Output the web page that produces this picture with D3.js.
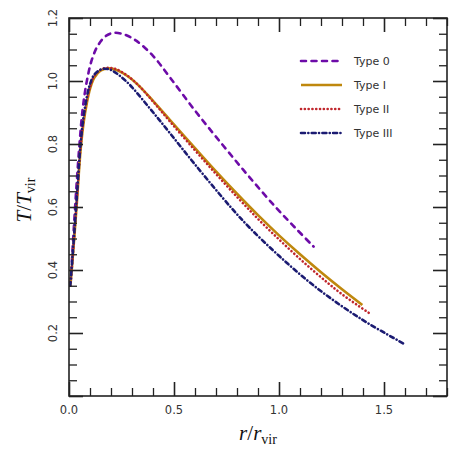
<!DOCTYPE html>
<html>
<head>
<meta charset="utf-8">
<script src="https://cdn.jsdelivr.net/npm/d3@7"></script>
<style>
  body { margin: 0; background: #fff; }
  svg text { font-family: "DejaVu Sans", sans-serif; }
</style>
</head>
<body>
<div id="chart"></div>
<script>
// Temperature profiles T/Tvir vs r/rvir
const r0 = [0.008, 0.02, 0.035, 0.05, 0.065, 0.085, 0.11, 0.14, 0.18, 0.22, 0.27, 0.32, 0.40, 0.48, 0.6, 0.733, 0.859, 0.986, 1.08, 1.165];
const t0 = [0.36, 0.50, 0.66, 0.80, 0.91, 1.00, 1.07, 1.115, 1.145, 1.153, 1.146, 1.128, 1.08, 1.012, 0.906, 0.796, 0.695, 0.598, 0.532, 0.474];

const r1 = [0.006, 0.013, 0.036, 0.055, 0.07, 0.085, 0.10, 0.12, 0.15, 0.19, 0.23, 0.28, 0.33, 0.4, 0.48, 0.6, 0.7, 0.8, 0.9, 1.0, 1.1, 1.2, 1.3, 1.397];
const t1 = [0.35, 0.40, 0.60, 0.78, 0.87, 0.93, 0.975, 1.01, 1.033, 1.04, 1.034, 1.015, 0.987, 0.937, 0.877, 0.787, 0.713, 0.642, 0.574, 0.51, 0.45, 0.393, 0.339, 0.289];

const r2 = [0.006, 0.013, 0.036, 0.055, 0.07, 0.085, 0.10, 0.12, 0.15, 0.19, 0.23, 0.28, 0.33, 0.4, 0.48, 0.6, 0.7, 0.8, 0.9, 1.0, 1.1, 1.2, 1.3, 1.432];
const t2 = [0.35, 0.40, 0.61, 0.79, 0.88, 0.94, 0.98, 1.015, 1.036, 1.042, 1.036, 1.016, 0.987, 0.935, 0.872, 0.78, 0.705, 0.632, 0.562, 0.497, 0.435, 0.377, 0.323, 0.262];

const r3 = [0.006, 0.013, 0.036, 0.055, 0.07, 0.085, 0.10, 0.12, 0.15, 0.17, 0.2, 0.274, 0.385, 0.48, 0.6, 0.772, 0.859, 1.0, 1.176, 1.39, 1.6];
const t3 = [0.35, 0.41, 0.62, 0.80, 0.89, 0.95, 0.99, 1.02, 1.036, 1.039, 1.035, 0.998, 0.913, 0.835, 0.735, 0.598, 0.535, 0.445, 0.345, 0.245, 0.164];

const seriesNames = ["Type 0", "Type I", "Type II", "Type III"];
const xTicks = [0, 0.5, 1.0, 1.5];
const yTicks = [0.2, 0.4, 0.6, 0.8, 1.0, 1.2];

const series = [
  { name: seriesNames[0], r: r0, t: t0, color: "#6d0ba8", dash: "5 5.5" },
  { name: seriesNames[1], r: r1, t: t1, color: "#bf880d", dash: null },
  { name: seriesNames[2], r: r2, t: t2, color: "#c0272d", dash: "0.1 3.7" },
  { name: seriesNames[3], r: r3, t: t3, color: "#1b1b72", dash: "4 3.3 0.1 3.3" }
];

const W = 461, H = 450;
const margin = { top: 18, right: 14, bottom: 54, left: 69 };
const width = W - margin.left - margin.right;
const height = H - margin.top - margin.bottom;

const svg = d3.select("#chart").append("svg")
  .attr("width", W)
  .attr("height", H);

const g = svg.append("g")
  .attr("transform", `translate(${margin.left},${margin.top})`);

const x = d3.scaleLinear().domain([0, 1.8]).range([0, width]);
const y = d3.scaleLinear().domain([0, 1.2]).range([height, 0]);

// curves
const line = d3.line()
  .x(d => x(d[0]))
  .y(d => y(d[1]))
  .curve(d3.curveCatmullRom.alpha(0.5));

series.forEach(s => {
  g.append("path")
    .datum(s.r.map((r, i) => [r, s.t[i]]))
    .attr("fill", "none")
    .attr("stroke", s.color)
    .attr("stroke-width", 2.6)
    .attr("stroke-linecap", s.dash ? "round" : "butt")
    .attr("stroke-dasharray", s.dash)
    .attr("d", line);
});

// ticks (inward, on all four sides)
const xMinor = d3.range(0, 1.81, 0.1).filter(v => Math.abs(v * 2 - Math.round(v * 2)) > 1e-6);
const yMinor = d3.range(0, 1.21, 0.05).filter(v => Math.abs(v * 5 - Math.round(v * 5)) > 1e-6);

function tickAxis(axisFn, scale, vals, size) {
  return axisFn(scale).tickValues(vals).tickSize(-size).tickFormat("");
}

const axes = [
  [d3.axisBottom, x, `translate(0,${height})`, xTicks, xMinor],
  [d3.axisTop, x, null, xTicks, xMinor],
  [d3.axisLeft, y, null, [0, ...yTicks], yMinor],
  [d3.axisRight, y, `translate(${width},0)`, [0, ...yTicks], yMinor]
];
axes.forEach(([fn, sc, tr, major, minor]) => {
  [[major, 14, 1.6], [minor, 8, 1.3]].forEach(([vals, size, sw]) => {
    const a = g.append("g").attr("transform", tr)
      .call(tickAxis(fn, sc, vals, size));
    a.select(".domain").remove();
    a.selectAll("line").attr("stroke", "#222").attr("stroke-width", sw);
  });
});

// frame
g.append("rect")
  .attr("width", width)
  .attr("height", height)
  .attr("fill", "none")
  .attr("stroke", "#222")
  .attr("stroke-width", 1.6);

// tick labels
g.selectAll(".xlab")
  .data(xTicks)
  .enter().append("text")
  .attr("x", d => x(d))
  .attr("y", height + 14)
  .attr("text-anchor", "middle")
  .attr("dominant-baseline", "central")
  .attr("font-size", 11.5)
  .attr("fill", "#333")
  .text(d => d3.format(".1f")(d));

g.selectAll(".ylab")
  .data(yTicks)
  .enter().append("text")
  .attr("transform", d => `translate(-16.5,${y(d)}) rotate(-90)`)
  .attr("text-anchor", "middle")
  .attr("dominant-baseline", "central")
  .attr("font-size", 11.5)
  .attr("fill", "#333")
  .text(d => d3.format(".1f")(d));

// axis titles
const serif = "'Liberation Serif', 'DejaVu Serif', serif";
const xt = svg.append("text")
  .attr("x", 258)
  .attr("y", 440)
  .attr("text-anchor", "middle")
  .attr("font-size", 21)
  .style("font-family", serif)
  .attr("fill", "#111");
xt.append("tspan").attr("font-style", "italic").text("r");
xt.append("tspan").text("/");
xt.append("tspan").attr("font-style", "italic").text("r");
xt.append("tspan").attr("font-size", 14).attr("dy", 4).text("vir");

const yt = svg.append("text")
  .attr("transform", "translate(31,200) rotate(-90)")
  .attr("text-anchor", "middle")
  .attr("font-size", 21)
  .style("font-family", serif)
  .attr("fill", "#111");
yt.append("tspan").attr("font-style", "italic").text("T");
yt.append("tspan").text("/");
yt.append("tspan").attr("font-style", "italic").text("T");
yt.append("tspan").attr("font-size", 14).attr("dy", 4).text("vir");

// legend
const legend = svg.append("g");
series.forEach((s, i) => {
  const ly = 61 + i * 24;
  legend.append("line")
    .attr("x1", 301).attr("x2", 342)
    .attr("y1", ly).attr("y2", ly)
    .attr("stroke", s.color)
    .attr("stroke-width", 2.6)
    .attr("stroke-linecap", s.dash ? "round" : "butt")
    .attr("stroke-dasharray", s.dash);
  legend.append("text")
    .attr("x", 354)
    .attr("y", ly)
    .attr("dominant-baseline", "central")
    .attr("font-size", 11)
    .attr("fill", "#333")
    .text(s.name);
});
</script>
</body>
</html>
